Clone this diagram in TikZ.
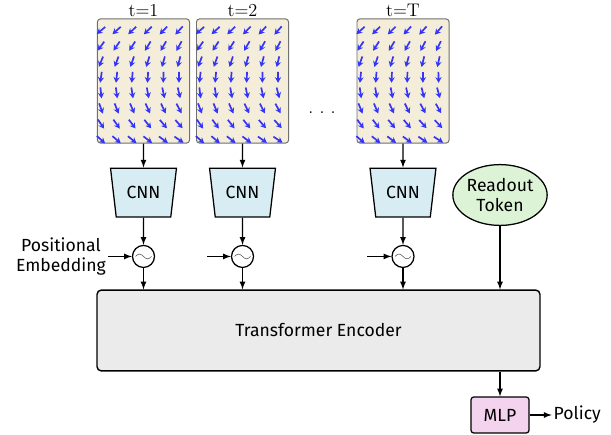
\documentclass[tikz,border=0pt]{standalone}
\usepackage{fontspec}
\newfontfamily\diagfont{Fira Sans}
\usetikzlibrary{arrows,arrows.meta}
\usetikzlibrary{positioning,shapes}
\usepackage{xcolor}
\definecolor{framefill}{HTML}{F3EDDA}
\definecolor{framedraw}{HTML}{707070}
\definecolor{cnnfill}{HTML}{D7ECF3}
\definecolor{tokenfill}{HTML}{DDF3D6}
\definecolor{encfill}{HTML}{EBEBEB}
\definecolor{mlpfill}{HTML}{F3D3EE}
\definecolor{flowblue}{HTML}{3535F5}

% blue arrow field inside one frame, #2 shifts the angles a little
\newcommand{\flowfield}[2]{%
  \foreach \r in {0,...,7}
    \foreach \c in {0,...,5} {
      \pgfmathsetmacro{\ang}{-140+14*\r+1.5*\c+#2}
      \pgfmathsetmacro{\back}{\ang+180}
      \draw[flow] ([shift={(4+15.6*\c,-12-15.6*\r)}]#1.north west) ++(\back:5.5) -- ++(\ang:11);
    }}

\begin{document}
\begin{tikzpicture}[%
        x=0.025cm, y=0.025cm,
        every node/.style={inner sep=1pt, align=center, font=\diagfont\fontsize{12.5}{14}\selectfont},
        frame/.style={draw=framedraw, fill=framefill, rounded corners=2pt, line width=0.7pt,
          minimum width=2.3cm, minimum height=3.1cm},
        tlabel/.style={font=\rmfamily\fontsize{13}{15}\selectfont},
        cnn/.style={draw, fill=cnnfill, trapezium, trapezium stretches=true, shape border rotate=180,
          trapezium angle=76, minimum width=1.65cm, minimum height=1.22cm},
        embed/.style={draw, circle, minimum size=0.55cm, inner sep=0pt,
          path picture={\draw[line width=0.4pt, gray!70!black]
            ([xshift=-0.2cm]path picture bounding box.center) sin ++(0.1cm,0.06cm) cos ++(0.1cm,-0.06cm)
            sin ++(0.1cm,-0.06cm) cos ++(0.1cm,0.06cm);}},
        readout/.style={draw, ellipse, fill=tokenfill, minimum width=2.15cm, minimum height=1.52cm, inner sep=0pt},
        encoder/.style={draw, fill=encfill, rounded corners=3pt, line width=1pt,
          minimum width=11.07cm, minimum height=2.02cm},
        mlpbox/.style={draw, fill=mlpfill, rounded corners=2pt, minimum width=1.45cm, minimum height=0.9cm},
        flow/.style={-{Stealth[length=4pt,width=4.4pt]}, flowblue, line width=1.2pt},
        node distance=0.6cm, >=latex, line width=0.9pt
      ]
      \useasboundingbox (0,0) rectangle (611,-434);
      \node [] (img1) [frame] at (143.5,-81) {};
      \node [] (img2) [frame, right=0.15cm of img1] {};
      \node [] (imgT) [frame] at (403,-81) {};
      \flowfield{img1}{0}
      \flowfield{img2}{1}
      \flowfield{imgT}{2}
      \node [] (t1) [tlabel, above=0pt of img1] {t=1};
      \node [] (t2) [tlabel, above=0pt of img2] {t=2};
      \node [] (tT) [tlabel, above=0pt of imgT] {t=T};
      \node [] (dots) [tlabel] at (322,-113) {.\,\,.\,\,.};

      \node [] (cnn1) [cnn, below=of img1] {CNN};
      \node [] (cnn2) [cnn, below=of img2] {CNN};
      \node [] (cnnT) [cnn, below=of imgT] {CNN};
      \node [] (pe1) [embed, below=0.68cm of cnn1] {};
      \node [] (pe2) [embed, below=0.68cm of cnn2] {};
      \node [] (peT) [embed, below=0.68cm of cnnT] {};
      \coordinate [left=0.6cm of pe1] (in1);
      \coordinate [left=0.6cm of pe2] (in2);
      \coordinate [left=0.6cm of peT] (inT);
      \node [] (posText) [left=0pt of in1] {Positional\\Embedding};

      \node [] (token) [readout] at (500,-195) {Readout\\Token};
      \node [] (enc) [encoder] at (318.5,-330.5) {Transformer Encoder};
      \node [] (mlp) [mlpbox] at (500,-415) {MLP};
      \node [] (policy) [right=0.55cm of mlp] {Policy};

      \path [draw] (img1) edge[->] (cnn1)
      (img2) edge[->] (cnn2)
      (imgT) edge[->] (cnnT)
      (cnn1) edge[->] (pe1)
      (cnn2) edge[->] (pe2)
      (cnnT) edge[->] (peT)
      (in1) edge[->] (pe1)
      (in2) edge[->] (pe2)
      (inT) edge[->] (peT)
      (pe1) edge[->] (pe1 |- enc.north)
      (pe2) edge[->] (pe2 |- enc.north)
      (peT) edge[->] (peT |- enc.north)
      (token) edge[->] (token |- enc.north)
      (enc.south -| mlp) edge[->] (mlp)
      (mlp) edge[->] (policy);
    \end{tikzpicture}
\end{document}
